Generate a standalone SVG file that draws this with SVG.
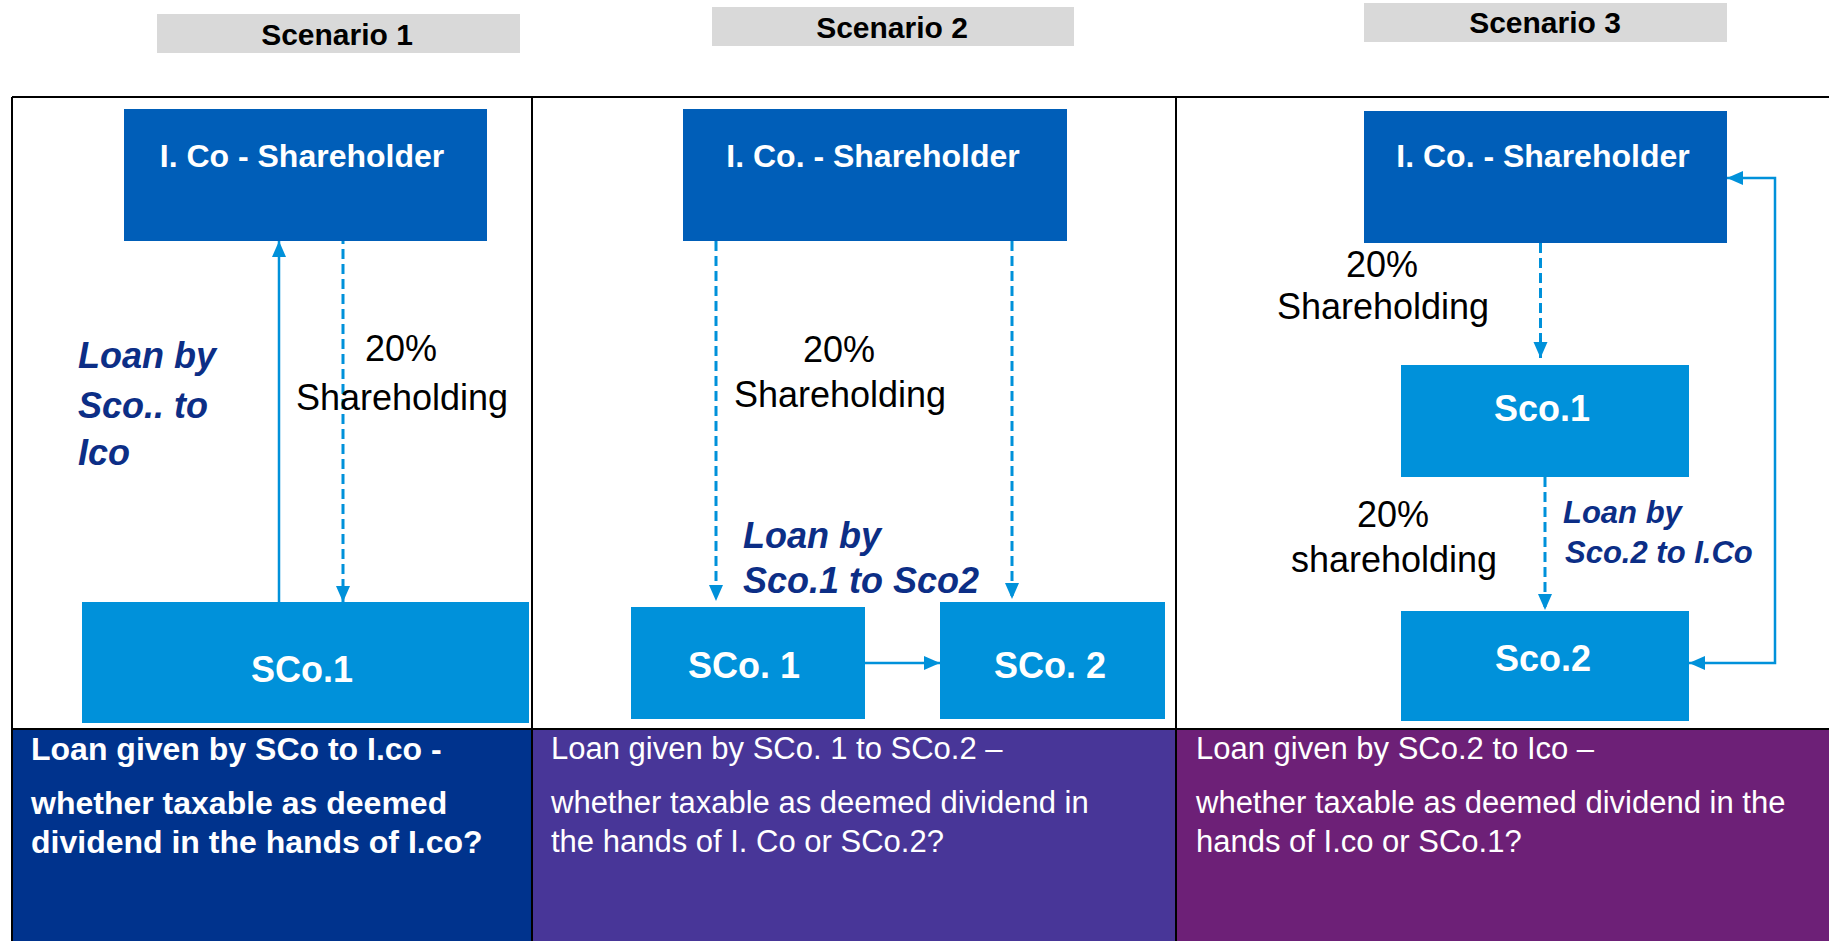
<svg xmlns="http://www.w3.org/2000/svg" width="1829" height="941" viewBox="0 0 1829 941">
<style>
text{font-family:"Liberation Sans",Arial,sans-serif}
.hdr{fill:#D9D9D9}
.hdrt{font-size:30px;font-weight:bold;fill:#000;text-anchor:middle}
.dark{fill:#005EB8}
.light{fill:#0091DA}
.nt{fill:#fff;font-weight:bold;text-anchor:middle}
.big{font-size:32px}
.sco{font-size:36px}
.pct{font-size:36px;fill:#000;text-anchor:middle}
.loan{font-size:36px;font-weight:bold;font-style:italic;fill:#0C2E86}
.conn{stroke:#0091DA;stroke-width:2.5;fill:none}
.dash{stroke:#0091DA;stroke-width:3;fill:none;stroke-dasharray:10 5}
.grid{stroke:#000;stroke-width:2;fill:none}
.bt{font-size:31px;fill:#fff}
.btb{font-size:32px;fill:#fff;font-weight:bold}
</style>
<defs>
<marker id="ah" markerUnits="userSpaceOnUse" markerWidth="16" markerHeight="16" viewBox="0 0 16 16" refX="16" refY="8" orient="auto-start-reverse">
<path d="M0,1 L16,8 L0,15 z" fill="#0091DA"/>
</marker>
</defs>
<rect x="0" y="0" width="1829" height="941" fill="#fff"/>
<g id="bands">
<rect x="12" y="730" width="520" height="211" fill="#00338D"/>
<rect x="532" y="730" width="644" height="211" fill="#483698"/>
<rect x="1176" y="730" width="653" height="211" fill="#6D2077"/>
</g>
<g id="grid">
<path class="grid" d="M12,97 H1829 M12,97 V941 M532,97 V941 M1176,97 V941 M12,729 H1829"/>
</g>
<g id="headers">
<g id="hdr1"><rect class="hdr" x="157" y="14" width="363" height="39"/><text class="hdrt" x="337" y="45">Scenario 1</text></g>
<g id="hdr2"><rect class="hdr" x="712" y="7" width="362" height="39"/><text class="hdrt" x="892" y="38">Scenario 2</text></g>
<g id="hdr3"><rect class="hdr" x="1364" y="3" width="363" height="39"/><text class="hdrt" x="1545" y="33">Scenario 3</text></g>
</g>
<g id="connectors">
<line class="conn" x1="279" y1="602" x2="279" y2="241" marker-end="url(#ah)"/>
<line class="dash" x1="343" y1="234" x2="343" y2="602" marker-end="url(#ah)"/>
<line class="dash" x1="716" y1="241" x2="716" y2="601" marker-end="url(#ah)"/>
<line class="dash" x1="1012" y1="241" x2="1012" y2="599" marker-end="url(#ah)"/>
<line class="conn" x1="865" y1="663" x2="940" y2="663" marker-end="url(#ah)"/>
<line class="dash" x1="1540.5" y1="243" x2="1540.5" y2="358" marker-end="url(#ah)"/>
<line class="dash" x1="1545" y1="477" x2="1545" y2="610" marker-end="url(#ah)"/>
<path class="conn" d="M1689,663 H1775 V178 H1727" marker-start="url(#ah)" marker-end="url(#ah)"/>
</g>
<g id="s1-ico"><rect class="dark" x="124" y="109" width="363" height="132"/><text class="nt big" x="302" y="167">I. Co - Shareholder</text></g>
<g id="s1-sco1"><rect class="light" x="82" y="602" width="447" height="121"/><text class="nt sco" x="302" y="682">SCo.1</text></g>
<g id="s2-ico"><rect class="dark" x="683" y="109" width="384" height="132"/><text class="nt big" x="873" y="167">I. Co. - Shareholder</text></g>
<g id="s2-sco1"><rect class="light" x="631" y="607" width="234" height="112"/><text class="nt sco" x="744" y="678">SCo. 1</text></g>
<g id="s2-sco2"><rect class="light" x="940" y="602" width="225" height="117"/><text class="nt sco" x="1050" y="678">SCo. 2</text></g>
<g id="s3-ico"><rect class="dark" x="1364" y="111" width="363" height="132"/><text class="nt big" x="1543" y="167">I. Co. - Shareholder</text></g>
<g id="s3-sco1"><rect class="light" x="1401" y="365" width="288" height="112"/><text class="nt sco" x="1542" y="421">Sco.1</text></g>
<g id="s3-sco2"><rect class="light" x="1401" y="611" width="288" height="110"/><text class="nt sco" x="1543" y="671">Sco.2</text></g>
<g id="labels">
<text class="pct" x="401" y="361">20%</text>
<text class="pct" x="402" y="410">Shareholding</text>
<text class="loan" x="78" y="368">Loan by</text>
<text class="loan" x="78" y="418">Sco.. to</text>
<text class="loan" x="78" y="465">Ico</text>
<text class="pct" x="839" y="362">20%</text>
<text class="pct" x="840" y="407">Shareholding</text>
<text class="loan" x="743" y="548">Loan by</text>
<text class="loan" x="743" y="593">Sco.1 to Sco2</text>
<text class="pct" x="1382" y="277">20%</text>
<text class="pct" x="1383" y="319">Shareholding</text>
<text class="pct" x="1393" y="527">20%</text>
<text class="pct" x="1394" y="572">shareholding</text>
<text class="loan" style="font-size:31px" x="1563" y="523">Loan by</text>
<text class="loan" style="font-size:31px" x="1565" y="563">Sco.2 to I.Co</text>
</g>
<g id="notes">
<text class="btb" x="31" y="760">Loan given by SCo to I.co -</text>
<text class="btb" x="31" y="814">whether taxable as deemed</text>
<text class="btb" x="31" y="853">dividend in the hands of I.co?</text>
<text class="bt" x="551" y="759">Loan given by SCo. 1 to SCo.2 –</text>
<text class="bt" x="551" y="813">whether taxable as deemed dividend in</text>
<text class="bt" x="551" y="852">the hands of I. Co or SCo.2?</text>
<text class="bt" x="1196" y="759">Loan given by SCo.2 to Ico –</text>
<text class="bt" x="1196" y="813">whether taxable as deemed dividend in the</text>
<text class="bt" x="1196" y="852">hands of I.co or SCo.1?</text>
</g>
</svg>
